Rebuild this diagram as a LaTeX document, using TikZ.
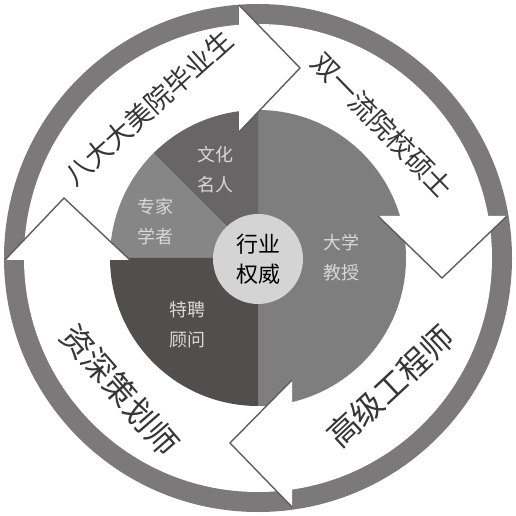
\documentclass[tikz,border=0pt]{standalone}
\usepackage{fontspec}
\newfontfamily\cjk{Noto Sans CJK SC}
\usetikzlibrary{calc}

\definecolor{ringgray}{HTML}{7B797A}
\definecolor{profgray}{HTML}{7F7E7F}
\definecolor{famegray}{HTML}{676566}
\definecolor{expertgray}{HTML}{878687}
\definecolor{advisegray}{HTML}{524E4E}
\definecolor{hubgray}{HTML}{D4D4D4}
\definecolor{edgegray}{HTML}{5E5E5E}
\definecolor{labelgray}{HTML}{D8D8D8}
\definecolor{inkgray}{HTML}{363636}

\begin{document}
\begin{tikzpicture}[x=1pt, y=1pt,
    headedge/.style={draw=edgegray, line width=1.4pt},
    arclabel/.style={text=inkgray, inner sep=0pt, font=\cjk\fontsize{27}{27}\selectfont},
    bigarclabel/.style={arclabel, font=\cjk\fontsize{32}{32}\selectfont},
    pielabel/.style={text=labelgray, align=center, font=\cjk\fontsize{18}{30}\selectfont},
    hub/.style={circle, fill=hubgray, minimum size=90pt, inner sep=0pt, align=center,
        font=\cjk\fontsize{22}{30}\selectfont}]
    % Fix the canvas
    \useasboundingbox (-258,-258) rectangle (258,258);
    \coordinate (O) at (0,0);

    % Draw the outer ring
    \fill[ringgray] (O) circle (254);
    \fill[white] (O) circle (234);

    % Draw the pie sectors
    \fill[profgray] (O) -- (-90:148) arc[start angle=-90, end angle=90, radius=148] -- cycle;
    \fill[famegray] (O) -- (90:148) arc[start angle=90, end angle=135, radius=148] -- cycle;
    \fill[expertgray] (O) -- (135:148) arc[start angle=135, end angle=180, radius=148] -- cycle;
    \fill[advisegray] (O) -- (180:148) arc[start angle=180, end angle=270, radius=148] -- cycle;

    % Define the arrow heads
    \coordinate (A1out) at (-19,253);  \coordinate (A1tip) at (42,190);   \coordinate (A1in) at (-19,126);
    \coordinate (A2out) at (249,42);   \coordinate (A2tip) at (184,-20);  \coordinate (A2in) at (120,42);
    \coordinate (A3out) at (34,-249);  \coordinate (A3tip) at (-28,-185); \coordinate (A3in) at (34,-122);
    \coordinate (A4out) at (-253,-2);  \coordinate (A4tip) at (-194,60);  \coordinate (A4in) at (-128,-2);

    % Draw the arrow heads
    \foreach \h in {A1,A2,A3,A4} {
        \fill[white] (\h out) -- (\h tip) -- (\h in) -- cycle;
        \draw[headedge] (\h out) -- (\h tip) -- (\h in);
    }

    % Labels on the arrows
    \node[arclabel, rotate=42] (grad) at (-109.5,150.5) {八大大美院毕业生};
    \node[arclabel, rotate=-46] (master) at (124.5,133) {双一流院校硕士};
    \node[bigarclabel, rotate=43] (engineer) at (132.5,-128.5) {高级工程师};
    \node[bigarclabel, rotate=-49] (planner) at (-138,-132) {资深策划师};

    % Labels in the pie
    \node[pielabel] (fame) at (-42,88) {文化\\名人};
    \node[pielabel] (expert) at (-102,36) {专家\\学者};
    \node[pielabel] (prof) at (83,0) {大学\\教授};
    \node[pielabel] (advise) at (-70,-67) {特聘\\顾问};

    % Draw the hub
    \node[hub] (core) at (0,-1) {行业\\权威};
\end{tikzpicture}
\end{document}
